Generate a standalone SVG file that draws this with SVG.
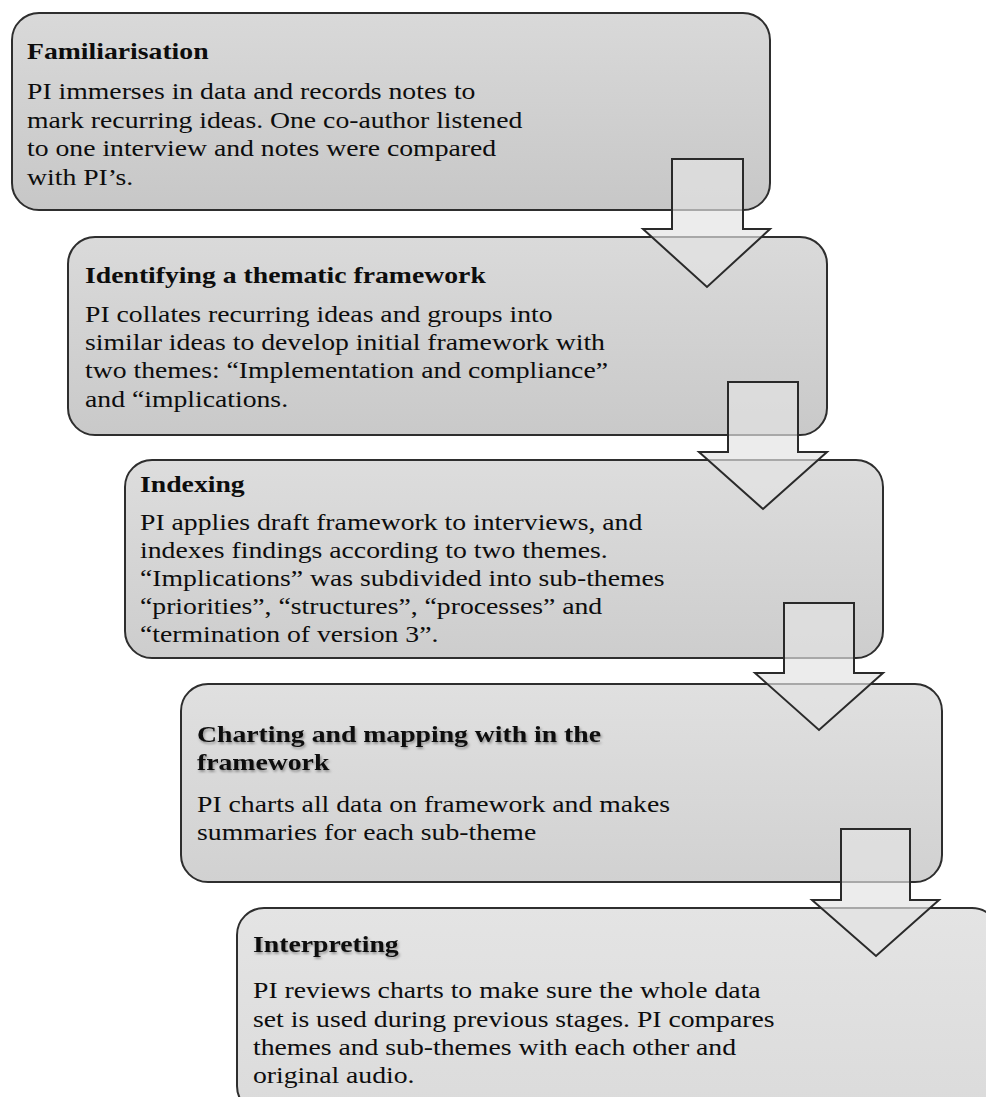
<svg xmlns="http://www.w3.org/2000/svg" width="986" height="1097" viewBox="0 0 986 1097">
<defs>
<linearGradient id="g1" x1="0" y1="0" x2="0" y2="1"><stop offset="0" stop-color="#d9d9d9"/><stop offset="1" stop-color="#c7c7c7"/></linearGradient>
<linearGradient id="g2" x1="0" y1="0" x2="0" y2="1"><stop offset="0" stop-color="#dadada"/><stop offset="1" stop-color="#c9c9c9"/></linearGradient>
<linearGradient id="g3" x1="0" y1="0" x2="0" y2="1"><stop offset="0" stop-color="#dddddd"/><stop offset="1" stop-color="#cdcdcd"/></linearGradient>
<linearGradient id="g4" x1="0" y1="0" x2="0" y2="1"><stop offset="0" stop-color="#e0e0e0"/><stop offset="1" stop-color="#d1d1d1"/></linearGradient>
<linearGradient id="g5" x1="0" y1="0" x2="0" y2="1"><stop offset="0" stop-color="#e4e4e4"/><stop offset="1" stop-color="#dbdbdb"/></linearGradient>
<filter id="sh" x="-5%" y="-30%" width="110%" height="160%"><feDropShadow dx="1" dy="2" stdDeviation="1.2" flood-color="#000" flood-opacity="0.35"/></filter>
</defs>
<style>
.box{stroke:#2e2e2e;stroke-width:2}
.arrow{fill:#e3e3e3;fill-opacity:0.68;stroke:#2a2a2a;stroke-width:2;stroke-linejoin:miter}
text{font-family:"Liberation Serif","Times New Roman",serif;font-size:24px;fill:#0d0d0d}
.t{font-weight:bold}
.ts{font-weight:bold;filter:url(#sh)}
</style>
<g id="node1">
<rect class="box" x="12" y="13" width="758" height="197" rx="27" fill="url(#g1)"/>
<g transform="translate(27,0) scale(1.155,1)">
<text class="t" x="0" y="59">Familiarisation</text>
<text x="0" y="99.5">PI immerses in data and records notes to</text>
<text x="0" y="128">mark recurring ideas. One co-author listened</text>
<text x="0" y="156.5">to one interview and notes were compared</text>
<text x="0" y="185">with PI’s.</text>
</g>
</g>
<g id="node2">
<rect class="box" x="68" y="237" width="759" height="198" rx="27" fill="url(#g2)"/>
<g transform="translate(85,0) scale(1.155,1)">
<text class="t" x="0" y="283">Identifying a thematic framework</text>
<text x="0" y="322">PI collates recurring ideas and groups into</text>
<text x="0" y="350">similar ideas to develop initial framework with</text>
<text x="0" y="378">two themes: “Implementation and compliance”</text>
<text x="0" y="407">and “implications.</text>
</g>
</g>
<g id="node3">
<rect class="box" x="125" y="460" width="758" height="198" rx="27" fill="url(#g3)"/>
<g transform="translate(140,0) scale(1.155,1)">
<text class="t" x="0" y="492">Indexing</text>
<text x="0" y="530">PI applies draft framework to interviews, and</text>
<text x="0" y="558">indexes findings according to two themes.</text>
<text x="0" y="586">“Implications” was subdivided into  sub-themes</text>
<text x="0" y="614">“priorities”, “structures”, “processes” and</text>
<text x="0" y="642">“termination of version 3”.</text>
</g>
</g>
<g id="node4">
<rect class="box" x="181" y="684" width="761" height="198" rx="27" fill="url(#g4)"/>
<g transform="translate(197,0) scale(1.155,1)">
<text class="ts" x="0" y="742">Charting and mapping with in the</text>
<text class="ts" x="0" y="770">framework</text>
<text x="0" y="812">PI charts all data on framework and makes</text>
<text x="0" y="840">summaries for each sub-theme</text>
</g>
</g>
<g id="node5">
<rect class="box" x="237" y="908" width="762" height="205" rx="27" fill="url(#g5)"/>
<g transform="translate(253,0) scale(1.155,1)">
<text class="ts" x="0" y="952">Interpreting</text>
<text x="0" y="998">PI reviews charts to make sure the whole data</text>
<text x="0" y="1027">set is used during previous stages. PI compares</text>
<text x="0" y="1055">themes and sub-themes with each other and</text>
<text x="0" y="1083">original audio.</text>
</g>
</g>
<g id="connectors">
<path class="arrow" d="M672,159 H743 V229 H770 L707,287 L643,229 H672 Z"/>
<path class="arrow" d="M728,382 H798 V452 H827 L763,509 L699,452 H728 Z"/>
<path class="arrow" d="M784,603 H854 V673 H883 L819,730 L755,673 H784 Z"/>
<path class="arrow" d="M841,829 H910 V900 H939 L876,956 L812,900 H841 Z"/>
</g>
</svg>
